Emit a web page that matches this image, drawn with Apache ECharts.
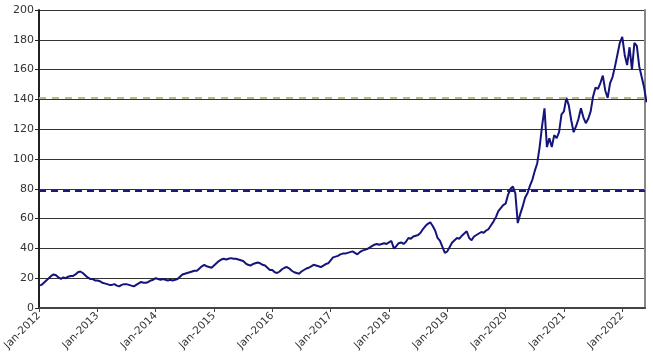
<!DOCTYPE html>
<html>
<head>
<meta charset="utf-8">
<script src="https://cdn.jsdelivr.net/npm/echarts@6/dist/echarts.min.js"></script>
<style>html,body{margin:0;padding:0;background:#fff}#c{width:653px;height:364px}</style>
</head>
<body>
<div id="c"></div>
<script>
// Semi-monthly values (1st and 15th of each month)
const v2012 = [15,15.5,17,18.5,20,21.5,22.5,22,20.5,19.5,20.5,20,21,21.5,21.5,22.5,24,24.5,23.5,22,20.5,19.5,19.5,18.5];
const v2013 = [18.5,18,17,16.5,16,15.5,15.5,16,15,14.5,15.5,16,16,15.5,15,14.5,15.5,16.5,17.5,17,17,17.5,18.5,19];
const v2014 = [20,19.5,19,19.5,19,18.5,19,18.5,19,19.5,21,22.5,23,23.5,24,24.5,25,25,26.5,28,29,28,27.5,27];
const v2015 = [28.5,30,31.5,32.5,33,32.5,33,33.5,33,33,32.5,32,31.5,30,29,28.5,29.5,30,30.5,30,29,28.5,27,25.5];
const v2016 = [25.5,24,23.5,24.5,26,27,27.5,26.5,25,24,23.5,23,24.5,25.5,26.5,27,28,29,28.5,28,27.5,28.5,29.5,30];
const v2017 = [32,34,34.5,35,36,36.5,36.5,37,37.5,38,37,36,37.5,38.5,39,39.5,40.5,41.5,42.5,43,42.5,43,43.5,43];
const v2018 = [44,45,40,41.5,43.5,44,43,44.5,47,46.5,48,48.5,49,50.5,53,55,56.5,57.5,55,52,47,45,41,37];
const v2019 = [38,41,44,45.5,47,46.5,48.5,50,51.5,47,45.5,48,49,50,51,50.5,52,53,55.5,58,61,65,67,69];
const v2020 = [70,76,80,81.5,77,57,63,68,74,77,82,86,92,97,108,122,134,108,114,108,116,114,118,130];
const v2021 = [132,141,136,126,118,122,127,134,128,124,127,132,142,148,147,151,156,146,141,151,155,162,170,178];
const v2022 = [182,170,163,175,160,178,176,162,155,148,138];

const years = [2012,2013,2014,2015,2016,2017,2018,2019,2020,2021,2022];
const valuesByYear = [v2012,v2013,v2014,v2015,v2016,v2017,v2018,v2019,v2020,v2021,v2022];
const yTicks = [0,20,40,60,80,100,120,140,160,180,200];
const refHigh = 141;
const refLow = 78.5;

const data = [];
years.forEach((y, k) => {
  valuesByYear[k].forEach((v, i) => data.push([y + i / 24, v]));
});

const chart = echarts.init(document.getElementById('c'), null, {renderer: 'canvas'});
chart.setOption({
  animation: false,
  backgroundColor: '#fff',
  grid: {left: 34, right: 8, top: 10, bottom: 56, containLabel: false},
  xAxis: {
    type: 'value',
    min: 2012,
    max: 2022.39,
    interval: 1,
    axisLine: {show: true, lineStyle: {color: '#444', width: 2}},
    axisTick: {show: true, length: 4, lineStyle: {color: '#444', width: 1}},
    splitLine: {show: false},
    axisLabel: {
      rotate: 45,
      fontFamily: 'DejaVu Sans',
      fontSize: 10.5,
      color: '#333',
      margin: 6,
      showMaxLabel: false,
      formatter: v => (Math.abs(v - Math.round(v)) < 1e-6 ? 'Jan-' + Math.round(v) : '')
    }
  },
  yAxis: [{
    type: 'value',
    min: yTicks[0],
    max: yTicks[yTicks.length - 1],
    interval: 20,
    axisLine: {show: true, lineStyle: {color: '#222', width: 2}},
    axisTick: {show: true, length: 4, lineStyle: {color: '#222'}},
    splitLine: {show: true, lineStyle: {color: '#333', width: 1}},
    axisLabel: {fontFamily: 'DejaVu Sans', fontSize: 11, color: '#333', margin: 5}
  }, {
    type: 'value',
    position: 'right',
    min: 0, max: 200, interval: 20,
    axisLine: {show: true, lineStyle: {color: '#888', width: 2}},
    axisTick: {show: false},
    axisLabel: {show: false},
    splitLine: {show: false}
  }],
  series: [{
    type: 'line',
    data: data,
    showSymbol: false,
    lineStyle: {color: '#14147a', width: 2},
    itemStyle: {color: '#14147a'},
    z: 3,
    markLine: {
      silent: true,
      symbol: 'none',
      label: {show: false},
      data: [
        {yAxis: refHigh, lineStyle: {color: '#bdb98a', type: [7, 6], width: 2}},
        {yAxis: refLow, lineStyle: {color: '#1a1a7a', type: [7, 5], width: 2}}
      ]
    }
  }]
});
</script>
</body>
</html>
